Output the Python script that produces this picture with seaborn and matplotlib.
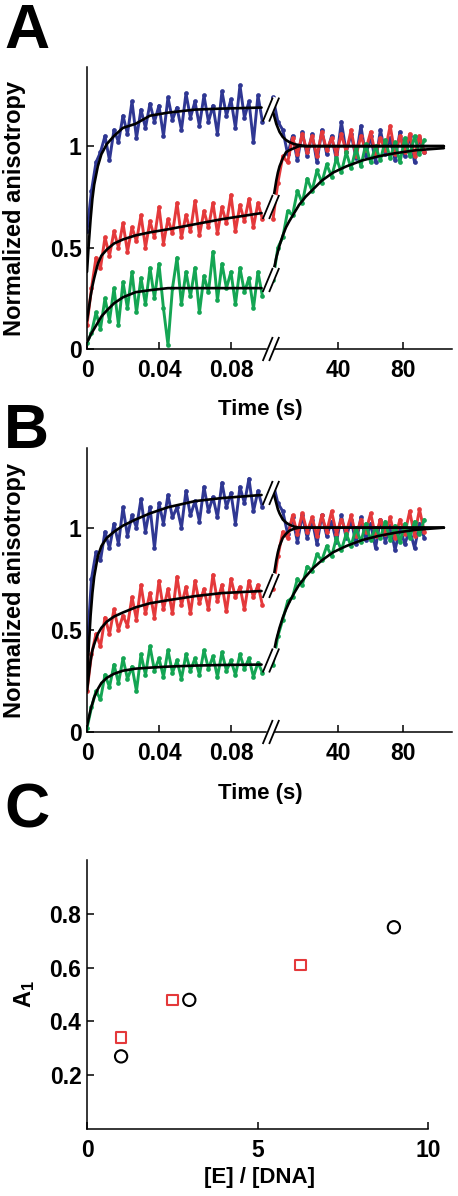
import numpy as np
import matplotlib
matplotlib.use("Agg")
import matplotlib.pyplot as plt
import seaborn as sns
from matplotlib.lines import Line2D

sns.set_style("ticks")
plt.rcParams["font.family"] = ["Liberation Sans", "DejaVu Sans"]
plt.rcParams["font.weight"] = "bold"
plt.rcParams["mathtext.fontset"] = "custom"
plt.rcParams["mathtext.rm"] = "Liberation Sans:bold"
plt.rcParams["mathtext.it"] = "Liberation Sans:italic"
for key in ["text.color", "axes.labelcolor", "xtick.color", "ytick.color", "axes.edgecolor"]:
    plt.rcParams[key] = "black"

BLUE, RED, GREEN = "#2f3793", "#e4393b", "#14a553"

# sampling grids of the traces (s)
t_fast = np.arange(40) * 0.0025      # 0 ... 0.0975 s
t_slow = np.arange(32) * 3.0         # 0 ... 93 s
t_fit_fast = [0, 0.001, 0.002, 0.003, 0.004, 0.006, 0.008, 0.011, 0.015,
              0.02, 0.027, 0.035, 0.045, 0.06, 0.075, 0.097]
t_fit_slow = [0, 1, 2, 3, 4, 6, 8, 10, 13, 16, 20, 25, 30, 37, 45, 55, 65,
              75, 88, 105]

# ---------- panel A data ----------
a_blue_fast = [0.58, 0.78, 0.92, 0.97, 1.05, 0.93, 1.08, 1.02, 1.15, 1.06,
               1.22, 1.04, 1.18, 1.09, 1.21, 1.12, 1.20, 1.05, 1.24, 1.13,
               1.19, 1.08, 1.26, 1.14, 1.22, 1.10, 1.25, 1.12, 1.20, 1.06,
               1.27, 1.15, 1.23, 1.09, 1.30, 1.14, 1.22, 1.02, 1.25, 1.12]
a_red_fast = [0.12, 0.30, 0.45, 0.40, 0.55, 0.46, 0.58, 0.50, 0.62, 0.48,
              0.60, 0.53, 0.66, 0.50, 0.63, 0.55, 0.70, 0.52, 0.64, 0.57,
              0.72, 0.55, 0.66, 0.58, 0.73, 0.56, 0.68, 0.60, 0.72, 0.57,
              0.70, 0.62, 0.76, 0.58, 0.71, 0.63, 0.74, 0.60, 0.72, 0.64]
a_green_fast = [0.03, 0.08, 0.18, 0.10, 0.25, 0.14, 0.30, 0.12, 0.33, 0.20,
                0.38, 0.18, 0.35, 0.22, 0.40, 0.25, 0.42, 0.20, 0.02, 0.30,
                0.45, 0.22, 0.38, 0.26, 0.40, 0.18, 0.36, 0.28, 0.48, 0.24,
                0.42, 0.30, 0.38, 0.22, 0.40, 0.28, 0.35, 0.20, 0.38, 0.26]
a_blue_slow = [1.24, 1.12, 1.08, 0.96, 1.05, 0.93, 1.07, 0.95, 1.06, 0.92,
               1.08, 0.96, 1.05, 0.93, 1.12, 0.97, 1.06, 0.94, 1.10, 0.95,
               1.05, 0.92, 1.08, 0.96, 1.04, 0.93, 1.07, 0.95, 1.05, 0.92,
               1.04, 0.97]
a_red_slow = [0.64, 0.82, 0.95, 0.92, 1.04, 0.96, 1.06, 0.97, 1.05, 0.95,
              1.07, 0.98, 1.04, 0.96, 1.06, 0.97, 1.08, 0.95, 1.05, 0.98,
              1.07, 0.96, 1.04, 0.98, 1.10, 0.96, 1.05, 0.97, 1.06, 0.95,
              1.05, 0.97]
a_green_slow = [0.34, 0.50, 0.55, 0.68, 0.66, 0.78, 0.72, 0.84, 0.78, 0.88,
                0.82, 0.91, 0.85, 0.94, 0.87, 0.97, 0.89, 0.99, 0.90, 1.01,
                0.92, 1.00, 0.93, 1.03, 0.94, 1.02, 0.92, 1.04, 0.95, 1.05,
                0.96, 1.03]
a_fit_blue_fast = [0.38, 0.52, 0.64, 0.74, 0.81, 0.90, 0.96, 1.01, 1.05, 1.09,
                   1.11, 1.15, 1.165, 1.18, 1.185, 1.19]
a_fit_red_fast = [0.14, 0.20, 0.26, 0.31, 0.35, 0.42, 0.46, 0.49, 0.52, 0.54,
                  0.56, 0.575, 0.59, 0.615, 0.64, 0.67]
a_fit_green_fast = [0.035, 0.05, 0.07, 0.085, 0.10, 0.13, 0.16, 0.19, 0.225,
                    0.255, 0.28, 0.29, 0.30, 0.30, 0.30, 0.30]
a_fit_blue_slow = [1.17, 1.14, 1.11, 1.09, 1.07, 1.045, 1.03, 1.02, 1.01,
                   1.005, 1.0, 1.0, 1.0, 1.0, 1.0, 1.0, 1.0, 1.0, 1.0, 1.0]
a_fit_red_slow = [0.73, 0.78, 0.83, 0.87, 0.90, 0.94, 0.97, 0.98, 0.99, 1.0,
                  1.0, 1.0, 1.0, 1.0, 1.0, 1.0, 1.0, 1.0, 1.0, 1.0]
a_fit_green_slow = [0.38, 0.41, 0.45, 0.48, 0.51, 0.56, 0.60, 0.63, 0.67,
                    0.71, 0.75, 0.79, 0.83, 0.87, 0.90, 0.93, 0.95, 0.965,
                    0.98, 0.99]

# ---------- panel B data ----------
b_blue_fast = [0.40, 0.75, 0.88, 0.84, 0.98, 0.90, 1.02, 0.92, 1.10, 0.96,
               1.06, 1.00, 1.14, 0.98, 1.10, 0.90, 1.12, 1.02, 1.16, 1.05,
               1.10, 1.00, 1.18, 1.06, 1.13, 1.03, 1.20, 1.08, 1.15, 1.05,
               1.22, 1.10, 1.17, 1.02, 1.20, 1.12, 1.24, 1.08, 1.18, 1.10]
b_red_fast = [0.20, 0.38, 0.48, 0.42, 0.56, 0.48, 0.60, 0.50, 0.57, 0.52,
              0.66, 0.55, 0.72, 0.58, 0.68, 0.56, 0.74, 0.60, 0.70, 0.58,
              0.76, 0.62, 0.71, 0.58, 0.74, 0.63, 0.70, 0.60, 0.77, 0.64,
              0.72, 0.59, 0.75, 0.66, 0.71, 0.60, 0.74, 0.66, 0.72, 0.62]
b_green_fast = [0.02, 0.12, 0.20, 0.16, 0.28, 0.22, 0.33, 0.24, 0.36, 0.26,
                0.32, 0.20, 0.38, 0.28, 0.42, 0.30, 0.36, 0.27, 0.40, 0.29,
                0.35, 0.26, 0.38, 0.30, 0.36, 0.28, 0.40, 0.31, 0.37, 0.27,
                0.39, 0.30, 0.35, 0.28, 0.38, 0.31, 0.36, 0.27, 0.34, 0.29]
b_blue_slow = [1.22, 1.12, 1.08, 0.97, 1.05, 0.93, 1.06, 0.95, 1.04, 0.92,
               1.06, 0.96, 1.03, 0.93, 1.06, 0.95, 1.04, 0.92, 1.05, 0.94,
               1.02, 0.90, 1.04, 0.93, 1.01, 0.89, 1.00, 0.92, 0.99, 0.90,
               1.02, 0.95]
b_red_slow = [0.70, 0.86, 0.98, 0.95, 1.06, 0.97, 1.07, 0.98, 1.05, 0.96,
              1.06, 0.98, 1.08, 0.97, 1.04, 0.98, 1.06, 0.96, 1.04, 0.98,
              1.07, 0.96, 1.04, 0.97, 1.05, 0.95, 1.04, 0.97, 1.08, 0.96,
              1.09, 0.98]
b_green_slow = [0.33, 0.47, 0.55, 0.64, 0.66, 0.75, 0.72, 0.81, 0.79, 0.87,
                0.84, 0.91, 0.86, 0.95, 0.89, 0.97, 0.91, 1.00, 0.93, 1.02,
                0.94, 1.00, 0.95, 1.03, 0.94, 1.01, 0.93, 1.02, 0.95, 1.03,
                0.97, 1.04]
b_fit_blue_fast = [0.25, 0.42, 0.57, 0.68, 0.76, 0.86, 0.91, 0.95, 0.98, 1.01,
                   1.04, 1.07, 1.10, 1.13, 1.145, 1.16]
b_fit_red_fast = [0.20, 0.28, 0.35, 0.40, 0.43, 0.48, 0.51, 0.54, 0.565,
                  0.585, 0.61, 0.63, 0.645, 0.665, 0.68, 0.69]
b_fit_green_fast = [0.03, 0.07, 0.11, 0.14, 0.17, 0.21, 0.24, 0.265, 0.285,
                    0.30, 0.31, 0.315, 0.32, 0.325, 0.328, 0.33]
b_fit_blue_slow = [1.18, 1.15, 1.12, 1.09, 1.07, 1.04, 1.025, 1.015, 1.005,
                   1.0, 1.0, 1.0, 1.0, 1.0, 1.0, 1.0, 1.0, 1.0, 1.0, 1.0]
b_fit_red_slow = [0.74, 0.79, 0.84, 0.88, 0.91, 0.95, 0.97, 0.985, 0.995,
                  1.0, 1.0, 1.0, 1.0, 1.0, 1.0, 1.0, 1.0, 1.0, 1.0, 1.0]
b_fit_green_slow = [0.37, 0.41, 0.45, 0.48, 0.51, 0.56, 0.60, 0.635, 0.68,
                    0.72, 0.76, 0.805, 0.84, 0.88, 0.91, 0.94, 0.96, 0.975,
                    0.99, 1.0]

# ---------- panel C data ----------
c_sq_x = [1.0, 2.5, 6.25]
c_sq_y = [0.34, 0.48, 0.61]
c_ci_x = [1.0, 3.0, 9.0]
c_ci_y = [0.27, 0.48, 0.75]

W, H = 458, 1196
fig = plt.figure(figsize=(W / 100, H / 100), dpi=100)


def px_axes(left, top, right, bottom):
    return fig.add_axes([left / W, 1 - bottom / H, (right - left) / W, (bottom - top) / H])


def style(ax):
    ax.tick_params(direction="in", length=5, width=1.1, labelsize=16.5, colors="black")
    ax.tick_params(axis="x", pad=7)
    ax.tick_params(axis="y", pad=4)
    for s in ax.spines.values():
        s.set_linewidth(1.1)
        s.set_color("black")
    sns.despine(ax=ax)


def break_mark(ax, x, y):
    cx, cy = ax.transData.transform((x, y))
    inv = fig.transFigure.inverted()
    for dx, col, lw in [(0, "white", 4.2), (-3.2, "black", 1.3), (3.2, "black", 1.3)]:
        p0 = inv.transform((cx + dx - 5, cy - 12))
        p1 = inv.transform((cx + dx + 5, cy + 12))
        fig.add_artist(Line2D([p0[0], p1[0]], [p0[1], p1[1]], transform=fig.transFigure,
                              color=col, lw=lw, solid_capstyle="butt", zorder=10))


def kinetics_panel(top, bottom, fast, slow, fit_fast, fit_slow, letter, letter_y):
    axl = px_axes(87, top, 270, bottom)
    axr = px_axes(270, top, 452, bottom)
    for ax in (axl, axr):
        ax.set_ylim(0, 1.39)
        ax.patch.set_alpha(0)
        style(ax)
    axl.set_xlim(0, 0.1017)
    axr.set_xlim(-1.85, 110)
    axl.spines["bottom"].set_bounds(0, 0.0995)
    axr.spines["bottom"].set_bounds(1.5, 110)
    axr.spines["left"].set_visible(False)
    axr.tick_params(axis="y", left=False, labelleft=False)
    axl.set_xticks([0, 0.04, 0.08], ["0", "0.04", "0.08"])
    axr.set_xticks([40, 80], ["40", "80"])
    axl.set_yticks([0, 0.5, 1], ["0", "0.5", "1"])

    for vals, col in zip(fast, (BLUE, RED, GREEN)):
        sns.lineplot(x=t_fast, y=vals, ax=axl, color=col, lw=2.1, marker="o",
                     markersize=3.4, markeredgewidth=0, sort=False, estimator=None)
    for vals, col in zip(slow, (BLUE, RED, GREEN)):
        sns.lineplot(x=t_slow, y=vals, ax=axr, color=col, lw=2.1, marker="o",
                     markersize=3.4, markeredgewidth=0, sort=False, estimator=None)
    for vals in fit_fast:
        sns.lineplot(x=t_fit_fast, y=vals, ax=axl, color="black", lw=1.9,
                     sort=False, estimator=None, zorder=5)
    for vals in fit_slow:
        sns.lineplot(x=t_fit_slow, y=vals, ax=axr, color="black", lw=1.9,
                     sort=False, estimator=None, zorder=5)

    axl.set_ylabel("Normalized anisotropy", fontsize=17, fontweight="bold")
    axl.yaxis.set_label_coords(-0.335, 0.5)
    x_break = (271 - 87) / 1800
    break_mark(axl, x_break, 0)
    for vf, vs in zip(fit_fast, fit_slow):
        break_mark(axl, x_break, (vf[-1] + vs[0]) / 2)
    fig.text(260 / W, 1 - (bottom + 61) / H, "Time (s)", ha="center", va="center",
             fontsize=16, fontweight="bold")
    fig.text(4 / W, 1 - letter_y / H, letter, ha="left", va="top",
             fontsize=45, fontweight="bold")


kinetics_panel(67, 349,
               [a_blue_fast, a_red_fast, a_green_fast],
               [a_blue_slow, a_red_slow, a_green_slow],
               [a_fit_blue_fast, a_fit_red_fast, a_fit_green_fast],
               [a_fit_blue_slow, a_fit_red_slow, a_fit_green_slow], "A", 2)
kinetics_panel(448, 732,
               [b_blue_fast, b_red_fast, b_green_fast],
               [b_blue_slow, b_red_slow, b_green_slow],
               [b_fit_blue_fast, b_fit_red_fast, b_fit_green_fast],
               [b_fit_blue_slow, b_fit_red_slow, b_fit_green_slow], "B", 402)

# ---------- panel C ----------
axc = px_axes(87, 860, 428, 1129)
style(axc)
sns.scatterplot(x=c_sq_x, y=c_sq_y, ax=axc, marker="s", s=60, facecolor="none",
                edgecolor=RED, linewidth=1.5, zorder=3)
sns.scatterplot(x=c_ci_x, y=c_ci_y, ax=axc, marker="o", s=78, facecolor="none",
                edgecolor="black", linewidth=1.5, zorder=3)
axc.set_xlim(0, 10)
axc.set_ylim(0, 1.0)
axc.set_xticks([0, 5, 10])
axc.set_yticks([0.2, 0.4, 0.6, 0.8], ["0.2", "0.4", "0.6", "0.8"])
axc.set_ylabel(r"$\mathrm{A}_{\mathit{1}}$", fontsize=17)
axc.yaxis.set_label_coords(-0.147, 0.5)
fig.text(260 / W, 1 - 1178 / H, "[E] / [DNA]", ha="center", va="center",
         fontsize=16, fontweight="bold")
fig.text(4 / W, 1 - 782 / H, "C", ha="left", va="top", fontsize=45, fontweight="bold")

fig.savefig("out.png", dpi=100)
